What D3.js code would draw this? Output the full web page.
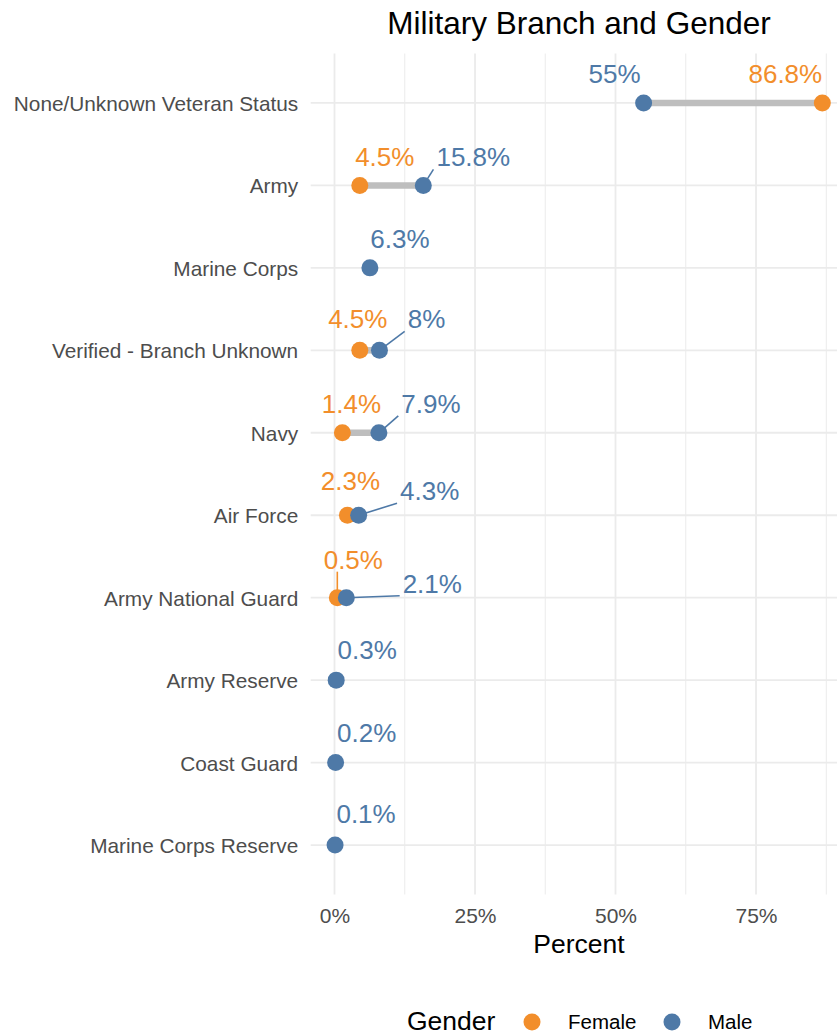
<!DOCTYPE html>
<html>
<head>
<meta charset="utf-8">
<script src="https://cdn.jsdelivr.net/npm/d3@7"></script>
<style>
  body { margin: 0; background: #fff; overflow: hidden; }
  text { font-family: "Liberation Sans", Arial, sans-serif; }
</style>
</head>
<body>
<div id="chart"></div>
<script>
// Military Branch and Gender - dumbbell chart
(function () {
  ///////////////////////////////////////////////////////////// ! Data
  const branches = [
    "None/Unknown Veteran Status",
    "Army",
    "Marine Corps",
    "Verified - Branch Unknown",
    "Navy",
    "Air Force",
    "Army National Guard",
    "Army Reserve",
    "Coast Guard",
    "Marine Corps Reserve",
  ];
  // null = no value shown for that gender
  const femaleValues = [86.8, 4.5, null, 4.5, 1.4, 2.3, 0.5, null, null, null];
  const maleValues = [55, 15.8, 6.3, 8, 7.9, 4.3, 2.1, 0.3, 0.2, 0.1];
  const xTicks = [0, 25, 50, 75];
  const genders = ["Female", "Male"];

  ///////////////////////////////////////////////////////////// ! Layout
  const W = 837, H = 1036;
  // panel runs past the right edge of the picture (cropped like the original)
  const panel = { left: 310.7, right: 846.7, top: 53.5, bottom: 894.5 };
  const colors = { Female: "#F28E2B", Male: "#4E79A7" };

  // label nudges (px from the point: text centre x, baseline y), repel-like placement
  const femaleNudge = [[-37, -20], [25, -19], null, [-2, -22], [9, -20], [3, -25], [16, -29], null, null, null];
  const maleNudge = [[-29, -20], [50, -19], [30, -20], [47, -22], [52, -20], [71, -15], [86, -5], [31, -21], [31, -21], [31, -22]];
  const femaleLeader = [false, false, false, false, false, false, true, false, false, false];
  const maleLeader = [false, true, false, true, true, true, true, false, false, false];

  const svg = d3.select("#chart").append("svg")
    .attr("width", W).attr("height", H);

  ///////////////////////////////////////////////////////////// ! Scales
  const allVals = femaleValues.concat(maleValues).filter((v) => v != null);
  const lo = d3.min(allVals), hi = d3.max(allVals);
  const pad = (hi - lo) * 0.05;
  const x = d3.scaleLinear().domain([lo - pad, hi + pad]).range([panel.left, panel.right]);

  const y = d3.scalePoint().domain(branches)
    .range([panel.top, panel.bottom]).padding(0.6);

  ///////////////////////////////////////////////////////////// ! Grid
  const grid = svg.append("g");
  const minorTicks = d3.range(-12.5, 100, 25).filter((t) => x(t) >= panel.left && x(t) <= panel.right);
  grid.selectAll(".minor").data(minorTicks).enter().append("line")
    .attr("x1", (d) => x(d)).attr("x2", (d) => x(d))
    .attr("y1", panel.top).attr("y2", panel.bottom)
    .attr("stroke", "#ebebeb").attr("stroke-width", 1);
  grid.selectAll(".major").data(xTicks).enter().append("line")
    .attr("x1", (d) => x(d)).attr("x2", (d) => x(d))
    .attr("y1", panel.top).attr("y2", panel.bottom)
    .attr("stroke", "#ebebeb").attr("stroke-width", 1.8);
  grid.selectAll(".hmajor").data(branches).enter().append("line")
    .attr("x1", panel.left).attr("x2", panel.right)
    .attr("y1", (d) => y(d)).attr("y2", (d) => y(d))
    .attr("stroke", "#ebebeb").attr("stroke-width", 1.8);

  ///////////////////////////////////////////////////////////// ! Axes
  const xAxis = svg.append("g")
    .attr("transform", `translate(0,${panel.bottom})`)
    .call(d3.axisBottom(x).tickValues(xTicks).tickFormat((d) => d + "%").tickSize(0).tickPadding(13.5));
  xAxis.select(".domain").remove();
  xAxis.selectAll("text")
    .style("font-size", "21px").style("fill", "#4d4d4d")
    .style("font-family", '"Liberation Sans", Arial, sans-serif');

  const yAxis = svg.append("g")
    .attr("transform", `translate(${panel.left},0)`)
    .call(d3.axisLeft(y).tickSize(0).tickPadding(12.5));
  yAxis.select(".domain").remove();
  yAxis.selectAll("text")
    .style("font-size", "20.8px").style("fill", "#4d4d4d")
    .style("font-family", '"Liberation Sans", Arial, sans-serif')
    .attr("dy", "0.36em");

  svg.append("text")
    .attr("x", 579).attr("y", 953)
    .attr("text-anchor", "middle")
    .style("font-size", "26.5px").style("fill", "#000")
    .text("Percent");

  svg.append("text")
    .attr("x", 579).attr("y", 34)
    .attr("text-anchor", "middle")
    .style("font-size", "31.5px").style("fill", "#000")
    .text("Military Branch and Gender");

  ///////////////////////////////////////////////////////////// ! Dumbbells
  const rows = branches.map((b, i) => ({
    branch: b, female: femaleValues[i], male: maleValues[i],
    fNudge: femaleNudge[i], mNudge: maleNudge[i],
    fLead: femaleLeader[i], mLead: maleLeader[i],
  }));

  svg.append("g").selectAll("line")
    .data(rows.filter((d) => d.female != null && d.male != null))
    .enter().append("line")
    .attr("x1", (d) => x(d.female)).attr("x2", (d) => x(d.male))
    .attr("y1", (d) => y(d.branch)).attr("y2", (d) => y(d.branch))
    .attr("stroke", "#bebebe").attr("stroke-width", 6.5);

  // flatten points
  const points = [];
  rows.forEach((d) => {
    if (d.female != null) points.push({ branch: d.branch, g: "Female", v: d.female, nudge: d.fNudge, lead: d.fLead });
    if (d.male != null) points.push({ branch: d.branch, g: "Male", v: d.male, nudge: d.mNudge, lead: d.mLead });
  });

  const leaderG = svg.append("g");
  const dotG = svg.append("g");
  const labelG = svg.append("g");

  // labels
  points.forEach((p) => {
    const px = x(p.v), py = y(p.branch);
    const t = labelG.append("text")
      .attr("x", px + p.nudge[0]).attr("y", py + p.nudge[1])
      .attr("text-anchor", "middle")
      .style("font-size", "26px")
      .style("fill", colors[p.g])
      .text(p.v + "%");
    if (p.lead) {
      const bb = t.node().getBBox();
      const bx0 = bb.x - 3, bx1 = bb.x + bb.width + 3;
      const by0 = bb.y + 3, by1 = bb.y + bb.height - 3;
      const cx = Math.max(bx0, Math.min(px, bx1));
      const cy = Math.max(by0, Math.min(py, by1));
      leaderG.append("line")
        .attr("x1", cx).attr("y1", cy).attr("x2", px).attr("y2", py)
        .attr("stroke", colors[p.g]).attr("stroke-width", 1.6);
    }
  });

  // dots: females first, males on top
  dotG.selectAll("circle").data(points).enter().append("circle")
    .attr("cx", (d) => x(d.v)).attr("cy", (d) => y(d.branch))
    .attr("r", 8.5)
    .attr("fill", (d) => colors[d.g]);

  ///////////////////////////////////////////////////////////// ! Legend
  const legend = svg.append("g");
  legend.append("text")
    .attr("x", 407).attr("y", 1030)
    .style("font-size", "26.5px").style("fill", "#000")
    .text("Gender");
  const legendX = { Female: 532, Male: 672 };
  genders.forEach((g) => {
    legend.append("circle")
      .attr("cx", legendX[g]).attr("cy", 1022).attr("r", 8.5)
      .attr("fill", colors[g]);
    legend.append("text")
      .attr("x", legendX[g] + 36).attr("y", 1029)
      .style("font-size", "20.5px").style("fill", "#000")
      .text(g);
  });
})();
</script>
</body>
</html>
